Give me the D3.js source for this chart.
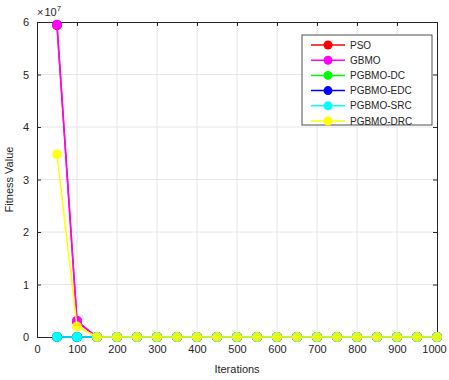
<!DOCTYPE html>
<html>
<head>
<meta charset="utf-8">
<script src="https://cdn.jsdelivr.net/npm/d3@7"></script>
<style>
  body { margin: 0; background: #fff; }
  svg text { font-family: "Liberation Sans", Arial, sans-serif; fill: #262626; }
</style>
</head>
<body>
<div id="chart"></div>
<script>
// iterations sampled every 50
const iterations = d3.range(50, 1001, 50);

// fitness values (x 10^7)
const psoValues  = [5.94, 0.29, 0, 0, 0, 0, 0, 0, 0, 0, 0, 0, 0, 0, 0, 0, 0, 0, 0, 0];
const gbmoValues = [5.95, 0.31, 0, 0, 0, 0, 0, 0, 0, 0, 0, 0, 0, 0, 0, 0, 0, 0, 0, 0];
const dcValues   = [0, 0, 0, 0, 0, 0, 0, 0, 0, 0, 0, 0, 0, 0, 0, 0, 0, 0, 0, 0];
const edcValues  = [0, 0, 0, 0, 0, 0, 0, 0, 0, 0, 0, 0, 0, 0, 0, 0, 0, 0, 0, 0];
const srcValues  = [0, 0, 0, 0, 0, 0, 0, 0, 0, 0, 0, 0, 0, 0, 0, 0, 0, 0, 0, 0];
const drcValues  = [3.48, 0.20, 0, 0, 0, 0, 0, 0, 0, 0, 0, 0, 0, 0, 0, 0, 0, 0, 0, 0];

const seriesNames = ["PSO", "GBMO", "PGBMO-DC", "PGBMO-EDC", "PGBMO-SRC", "PGBMO-DRC"];
const seriesColors = ["#ff0000", "#ff00ff", "#00ff00", "#0000ff", "#00ffff", "#ffff00"];
const seriesValues = [psoValues, gbmoValues, dcValues, edcValues, srcValues, drcValues];

const xTicks = d3.range(0, 1001, 100);
const yTicks = [0, 1, 2, 3, 4, 5, 6];

// layout
const margin = {top: 22, right: 12, bottom: 43, left: 37};
const W = 449, H = 380;
const width = W - margin.left - margin.right;
const height = H - margin.top - margin.bottom;

const svg = d3.select("#chart")
    .append("svg")
    .attr("width", W)
    .attr("height", H);

const g = svg.append("g")
    .attr("transform", "translate(" + margin.left + "," + margin.top + ")");

const x = d3.scaleLinear().domain([0, 1000]).range([0, width]);
const y = d3.scaleLinear().domain([0, 6]).range([height, 0]);

// grid
g.append("g").selectAll("line")
    .data(xTicks.slice(1, -1))
    .enter().append("line")
    .attr("x1", d => x(d)).attr("x2", d => x(d))
    .attr("y1", 0).attr("y2", height)
    .attr("stroke", "#e6e6e6").attr("stroke-width", 1);
g.append("g").selectAll("line")
    .data(yTicks.slice(1, -1))
    .enter().append("line")
    .attr("x1", 0).attr("x2", width)
    .attr("y1", d => y(d)).attr("y2", d => y(d))
    .attr("stroke", "#e6e6e6").attr("stroke-width", 1);

// axes (ticks inside, MATLAB style)
const xAxis = g.append("g")
    .attr("transform", "translate(0," + height + ")")
    .call(d3.axisBottom(x).tickValues(xTicks).tickSizeInner(-4).tickSizeOuter(0)
        .tickPadding(8).tickFormat(d3.format("d")));
const xAxisTop = g.append("g")
    .call(d3.axisTop(x).tickValues(xTicks).tickSizeInner(-4).tickSizeOuter(0).tickFormat(""));
const yAxis = g.append("g")
    .call(d3.axisLeft(y).tickValues(yTicks).tickSizeInner(-4).tickSizeOuter(0)
        .tickPadding(8).tickFormat(d3.format("d")));
const yAxisRight = g.append("g")
    .attr("transform", "translate(" + width + ",0)")
    .call(d3.axisRight(y).tickValues(yTicks).tickSizeInner(-4).tickSizeOuter(0).tickFormat(""));

[xAxis, xAxisTop, yAxis, yAxisRight].forEach(a => {
    a.select(".domain").attr("stroke", "#262626");
    a.selectAll(".tick line").attr("stroke", "#262626");
    a.selectAll("text").style("font-size", "11px").attr("fill", "#262626");
});
// keep the last x label inside the window
xAxis.selectAll(".tick text").filter(d => d === 1000).attr("dx", -3);

// exponent label
const expText = g.append("text")
    .attr("x", 0)
    .attr("y", -6)
    .style("font-size", "11px");
expText.append("tspan").text("\u00d7");
expText.append("tspan").attr("dx", 1).text("10");
expText.append("tspan").attr("dy", -5).style("font-size", "8px").text("7");

// axis labels
g.append("text")
    .attr("x", width / 2)
    .attr("y", height + 36)
    .attr("text-anchor", "middle")
    .style("font-size", "11px")
    .text("Iterations");
g.append("text")
    .attr("transform", "rotate(-90)")
    .attr("x", -height / 2)
    .attr("y", -24)
    .attr("text-anchor", "middle")
    .style("font-size", "11px")
    .text("Fitness Value");

// lines and markers
const line = d3.line()
    .x((d, i) => x(iterations[i]))
    .y(d => y(d));

seriesValues.forEach((vals, k) => {
    g.append("path")
        .datum(vals)
        .attr("fill", "none")
        .attr("stroke", seriesColors[k])
        .attr("stroke-width", 1.5)
        .attr("d", line);
    g.append("g").selectAll("circle")
        .data(vals)
        .enter().append("circle")
        .attr("cx", (d, i) => x(iterations[i]))
        .attr("cy", d => y(d))
        .attr("r", 5)
        .attr("fill", seriesColors[k])
        .attr("fill-opacity", k === 5 ? 0.85 : 1);
});

// legend
const legend = svg.append("g").attr("transform", "translate(302,35)");
legend.append("rect")
    .attr("width", 130).attr("height", 90)
    .attr("fill", "#fff").attr("stroke", "#262626").attr("stroke-width", 0.8);
seriesNames.forEach((name, k) => {
    const row = legend.append("g").attr("transform", "translate(0," + (10 + k * 15.2) + ")");
    row.append("line")
        .attr("x1", 9).attr("x2", 43)
        .attr("stroke", seriesColors[k]).attr("stroke-width", 1.5);
    row.append("circle")
        .attr("cx", 26).attr("r", 4.5)
        .attr("fill", seriesColors[k]);
    row.append("text")
        .attr("x", 48).attr("dy", "0.35em")
        .style("font-size", "10px")
        .text(name);
});
</script>
</body>
</html>
